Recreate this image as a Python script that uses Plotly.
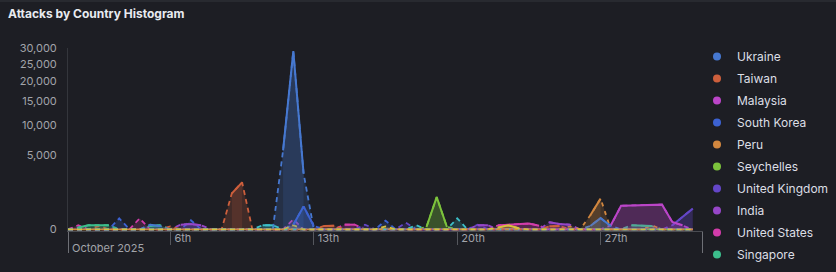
import numpy as np
import pandas as pd
import plotly.graph_objects as go

N = None
# 12-hour histogram buckets, Oct 1 2025 00:00 .. Oct 31 2025 12:00
buckets = pd.date_range("2025-10-01 00:00", periods=62, freq="12h")

# values per bucket (None = empty bucket)
ukraine = [N, N, N, N, N, N, N, N, 20, 10,
           N, N, N, N, N, N, N, N, N, N,
           N, 5700, 29000, 2870, N, N, N, N, N, N,
           N, N, N, N, N, N, N, N, N, N,
           N, N, N, N, N, N, N, N, N, N,
           N, 10, 115, 10, N, N, N, N, N, N,
           N, N]
taiwan = [N, N, N, 10, N, N, N, N, N, N,
          8, N, N, N, N, N, 1184, 2019, N, N,
          N, N, N, N, N, 10, 12, N, N, N,
          N, N, N, N, N, N, N, N, N, N,
          N, N, N, N, N, N, N, 8, 10, N,
          N, N, N, N, N, N, N, N, N, N,
          N, N]
malaysia = [N, N, N, N, N, N, N, N, N, N,
            N, N, N, N, N, N, N, N, N, N,
            N, N, N, N, N, N, N, N, N, N,
            N, N, N, N, N, N, N, N, N, N,
            N, N, N, N, N, N, N, N, N, N,
            N, N, N, 15, 505, 520, 530, 540, 557, 50,
            15, N]
south_korea = [N, N, N, N, N, 110, N, N, N, N,
               N, N, 75, N, N, N, N, N, N, N,
               N, N, 20, 480, 10, N, N, N, N, N,
               N, 70, N, N, N, N, N, N, N, N,
               N, N, N, N, N, N, N, N, N, N,
               N, N, N, N, N, N, N, N, N, N,
               N, N]
peru = [N, N, N, N, N, N, N, N, N, N,
        N, N, N, N, N, N, N, N, N, N,
        N, N, N, N, N, N, N, N, N, N,
        N, N, N, N, N, N, N, N, N, N,
        N, N, N, N, N, N, N, N, N, 8,
        N, 180, 860, N, N, N, N, 15, N, N,
        N, N]
seychelles = [N, N, N, N, N, N, N, N, N, N,
              N, N, N, N, N, N, N, N, N, N,
              N, N, N, N, N, N, N, N, N, N,
              N, N, N, N, N, 5, 950, 5, N, N,
              N, N, N, N, N, N, N, N, N, N,
              N, N, N, N, N, N, N, N, N, N,
              N, N]
united_kingdom = [N, N, N, N, N, N, N, N, N, N,
                  N, N, N, N, N, N, N, N, N, N,
                  N, N, N, N, N, N, N, N, N, 20,
                  N, N, N, 40, N, N, N, N, N, N,
                  20, N, N, N, N, N, N, N, N, N,
                  N, N, N, N, N, N, N, N, N, 15,
                  138, 392]
india = [N, N, N, N, N, N, N, N, N, N,
         N, 20, 25, 15, N, N, N, N, N, N,
         N, N, N, N, N, N, N, N, N, N,
         N, N, N, N, N, N, N, N, N, N,
         15, 15, N, N, N, N, N, 45, 25, 20,
         N, N, N, N, N, N, N, N, N, N,
         N, N]
united_states = [N, 15, N, N, N, N, N, 110, N, N,
                 N, N, N, N, N, N, N, N, N, N,
                 N, N, 90, N, N, N, N, 20, 20, N,
                 N, N, N, N, N, N, N, N, N, N,
                 N, N, 15, 20, 25, 30, 12, N, N, N,
                 N, N, N, N, N, N, N, N, N, N,
                 N, N]
singapore = [N, 3, 15, 15, 15, N, N, N, 10, 15,
             N, N, N, N, N, N, N, N, N, N,
             N, N, N, N, N, N, N, N, N, N,
             N, N, N, N, N, N, N, N, N, N,
             N, N, N, N, N, N, N, N, N, N,
             N, N, N, N, N, 15, 15, 10, N, N,
             N, N]
# further countries (not listed in the visible legend)
other_a = [N, N, N, N, N, N, N, N, N, N,
           N, N, N, N, N, N, N, N, N, 15,
           15, N, N, N, N, N, N, N, N, N,
           N, N, N, N, 15, N, N, N, 110, N,
           N, N, N, N, N, N, N, N, N, N,
           N, N, N, N, N, N, N, N, N, N,
           N, N]
other_b = [N, N, N, N, N, N, N, N, N, N,
           N, N, N, N, N, N, N, N, N, N,
           N, N, 15, N, N, N, N, N, N, N,
           N, 8, N, N, N, N, N, N, N, N,
           N, N, 3, 15, 1, N, N, N, N, N,
           N, N, N, N, N, N, N, N, N, N,
           N, N]

series = [
    ("Ukraine", ukraine, (70, 120, 208), True),
    ("Taiwan", taiwan, (205, 95, 60), True),
    ("Malaysia", malaysia, (187, 69, 200), True),
    ("South Korea", south_korea, (60, 98, 210), True),
    ("Peru", peru, (210, 135, 63), True),
    ("Seychelles", seychelles, (124, 194, 60), True),
    ("United Kingdom", united_kingdom, (100, 70, 200), True),
    ("India", india, (150, 70, 200), True),
    ("United States", united_states, (210, 60, 170), True),
    ("Singapore", singapore, (60, 190, 140), True),
    ("Netherlands", other_a, (60, 190, 200), False),
    ("Germany", other_b, (215, 194, 60), False),
]

y_ticks = [0, 5000, 10000, 15000, 20000, 25000, 30000]
x_ticks = ["2025-10-06", "2025-10-13", "2025-10-20", "2025-10-27"]
x_ticktext = ["6th", "13th", "20th", "27th"]

BG = "#1d1e24"
fig = go.Figure()


def rgba(c, a):
    return f"rgba({c[0]},{c[1]},{c[2]},{a})"


def runs(vals):
    """Split a bucket list into runs of consecutive non-empty buckets."""
    out, cur = [], []
    for i, v in enumerate(vals):
        if v is None:
            if cur:
                out.append(cur)
            cur = []
        else:
            cur.append(i)
    if cur:
        out.append(cur)
    return out


draw_order = list(reversed(series[:10])) + series[10:]
draw_order = [s for s in draw_order if s[0] != "Peru"]
draw_order.insert(len(draw_order) - 1, series[4])

# empty buckets drawn as dashed zero-fit lines (as in the source chart)
for name, vals, c, _ in draw_order:
    fit = [0 if v is None else v for v in vals]
    dash = "0px,5px,4px,0px" if name == "Peru" else "5px,4px"
    fig.add_trace(go.Scatter(
        x=buckets, y=np.sqrt(fit), mode="lines", showlegend=False,
        line=dict(color=rgba(c, 1), width=1.8, dash=dash),
        fill="tozeroy", fillcolor=rgba(c, 0.2), hoverinfo="skip"))

# real data: solid line + area for every run of consecutive buckets
for name, vals, c, _ in draw_order:
    for r in runs(vals):
        if len(r) < 2:
            continue
        fig.add_trace(go.Scatter(
            x=buckets[r], y=np.sqrt([vals[i] for i in r]), mode="lines",
            showlegend=False, line=dict(color=rgba(c, 1), width=2),
            fill="tozeroy", fillcolor=rgba(c, 0.15), name=name,
            customdata=[vals[i] for i in r],
            hovertemplate="%{customdata}<extra>" + name + "</extra>"))

for name, vals, c, inleg in series:
    if inleg:
        fig.add_trace(go.Scatter(
            x=[None], y=[None], mode="markers", name=name, legendgroup=name,
            marker=dict(symbol="circle", size=8, color=rgba(c, 1))))

axis_font = dict(family="Inter", size=11, color="#a2a4aa")
fig.update_layout(
    width=836, height=272,
    margin=dict(l=68, r=133, t=48, b=41, autoexpand=False),
    paper_bgcolor=BG, plot_bgcolor=BG,
    font=dict(family="Inter", color="#dfe1e6"),
    title=dict(text="Attacks by Country Histogram", xref="container", yref="container",
               x=8 / 836, y=1 - 14 / 272, xanchor="left", yanchor="middle",
               font=dict(family="Inter", size=12, color="#e8ebf0", weight=700)),
    showlegend=True,
    legend=dict(xref="container", yref="container", x=697 / 836, y=1 - 42 / 272,
                xanchor="left", yanchor="top", traceorder="grouped", tracegroupgap=3,
                maxheight=250,
                font=dict(family="Inter", size=12, color="#dcdfe5"),
                bgcolor="rgba(0,0,0,0)", borderwidth=0),
    xaxis=dict(range=["2025-10-01 00:00", "2025-11-01 00:00"], type="date",
               tickvals=x_ticks, ticktext=x_ticktext, ticks="outside", ticklen=13,
               tickcolor="#55575d", tickwidth=1, ticklabelposition="outside right",
               ticklabelstandoff=-3, ticklabelshift=3, tickfont=axis_font,
               showgrid=False, zeroline=False,
               showline=True, linecolor="#4a4c52", linewidth=1),
    yaxis=dict(range=[-1.6, 173.3], tickvals=[np.sqrt(v) for v in y_ticks],
               ticktext=[f"{v:,}" for v in y_ticks], ticks="", ticklabelstandoff=8,
               tickfont=axis_font, showgrid=False, zeroline=False,
               showline=True, linecolor="#34363c", linewidth=1),
    hovermode="x",
)

fig.add_annotation(text="October 2025", x="2025-10-01 00:00", xref="x", xanchor="left",
                   yref="paper", y=-0.095, yanchor="middle", showarrow=False,
                   xshift=2, font=axis_font)
for xv in ["2025-10-01 00:00", "2025-11-01 00:00"]:
    fig.add_shape(type="line", xref="x", yref="paper", x0=xv, x1=xv, y0=-0.005, y1=-0.12,
                  line=dict(color="#8a8c92", width=1.5))
fig.add_shape(type="line", xref="paper", yref="paper", x0=-68 / 635, x1=(836 - 68) / 635,
              y0=1 + 47 / 183, y1=1 + 47 / 183, line=dict(color="#34363c", width=1))

fig.write_html("out.html")
